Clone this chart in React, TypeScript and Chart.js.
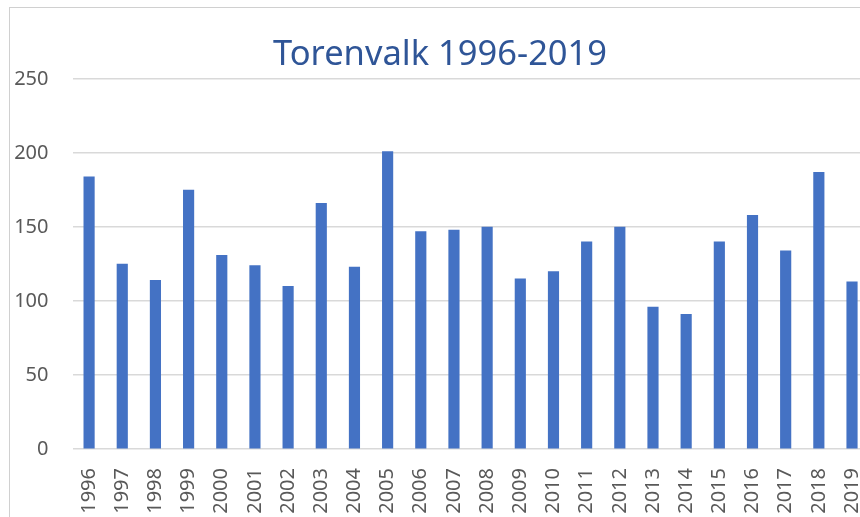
import React, { useEffect, useRef } from "react";
import { Chart, registerables } from "chart.js";

Chart.register(...registerables);

const years: string[] = [
  "1996", "1997", "1998", "1999", "2000", "2001", "2002", "2003",
  "2004", "2005", "2006", "2007", "2008", "2009", "2010", "2011",
  "2012", "2013", "2014", "2015", "2016", "2017", "2018", "2019",
];
const counts: number[] = [
  184, 125, 114, 175, 131, 124, 110, 166,
  123, 201, 147, 148, 150, 115, 120, 140,
  150, 96, 91, 140, 158, 134, 187, 113,
];
const yMin = 0;
const yMax = 250;
const yStep = 50;
const titleText = "Torenvalk 1996-2019";

export default function App() {
  const ref = useRef<HTMLCanvasElement | null>(null);

  useEffect(() => {
    if (!ref.current) return;
    const chart = new Chart(ref.current, {
      type: "bar",
      data: {
        labels: years,
        datasets: [
          {
            data: counts,
            backgroundColor: "#4472C4",
            borderWidth: 0,
            barThickness: 10.5,
          },
        ],
      },
      options: {
        responsive: false,
        animation: false,
        devicePixelRatio: 1,
        layout: { padding: { left: 11.4, right: 11.4, top: 0, bottom: 0 } },
        plugins: {
          legend: { display: false },
          tooltip: { enabled: false },
          title: {
            display: true,
            text: titleText,
            color: "#2F5597",
            font: { family: "'Noto Sans'", size: 34.5, weight: "normal", lineHeight: 1.2 },
            padding: { top: 34.8, bottom: 3 },
          },
        },
        scales: {
          x: {
            grid: { display: false, drawTicks: false },
            border: { display: false },
            ticks: {
              color: "#595959",
              font: { family: "'Noto Sans'", size: 20 },
              maxRotation: 90,
              minRotation: 90,
              padding: 19,
              autoSkip: false,
            },
            afterFit: (s: any) => {
              s.height = 80;
              s.paddingLeft = 0;
              s.paddingRight = 0;
            },
          },
          y: {
            min: yMin,
            max: yMax,
            grid: { color: "#d9d9d9", lineWidth: 1.5, drawTicks: false },
            border: { display: false },
            ticks: {
              stepSize: yStep,
              color: "#595959",
              font: { family: "'Noto Sans'", size: 20 },
              padding: 24,
            },
            afterFit: (s: any) => {
              s.width = 61.1;
            },
          },
        },
      },
    });
    return () => chart.destroy();
  }, []);

  return (
    <div
      style={{
        position: "fixed",
        left: 0,
        top: 0,
        width: 860,
        height: 517,
        overflow: "hidden",
        background: "#ffffff",
      }}
    >
      <div
        style={{
          position: "absolute",
          left: 9,
          top: 7,
          width: 1000,
          height: 1000,
          border: "1px solid #d0d0d0",
          boxSizing: "border-box",
        }}
      />
      <canvas
        ref={ref}
        width={880}
        height={529}
        style={{ position: "absolute", left: 0, top: 0, width: 880, height: 529 }}
      />
    </div>
  );
}
